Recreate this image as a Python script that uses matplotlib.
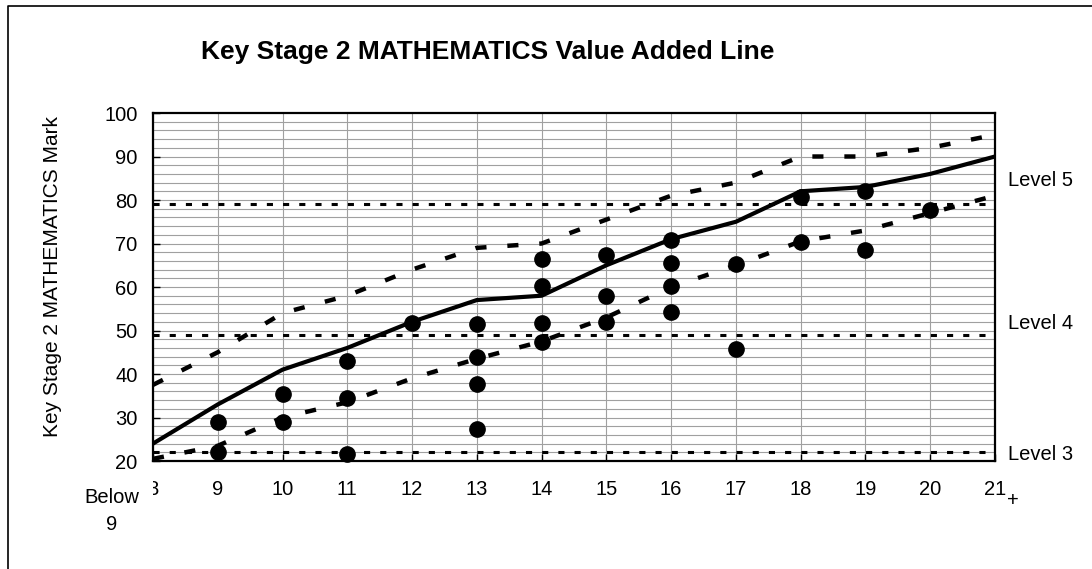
import matplotlib
matplotlib.use('Agg')
import matplotlib.pyplot as plt
from matplotlib.lines import Line2D

plt.rcParams['font.family'] = ['Liberation Sans', 'DejaVu Sans']

# KS1 point score categories (8 = "Below 9", 21 = "21+")
ks1 = [8, 9, 10, 11, 12, 13, 14, 15, 16, 17, 18, 19, 20, 21]
tick_labels = ['8', '9', '10', '11', '12', '13', '14', '15', '16', '17', '18', '19', '20', '21']

# value added lines
median_line = [24, 33, 41, 46, 52, 57, 58, 65, 71, 75, 82, 83, 86, 90]
upper_line = [37.5, 45, 54, 58, 64, 69, 70, 75.5, 81, 84, 90, 90, 92, 95]
lower_line = [20.5, 23.5, 30, 33.5, 39, 43.5, 47.5, 53, 60, 65, 70.5, 73, 77, 81]

# pupils
pupil_x = [9, 9, 10, 10, 11, 11, 11, 12, 13, 13, 13, 13, 14, 14, 14, 14,
           15, 15, 15, 16, 16, 16, 16, 17, 17, 18, 18, 19, 19, 20]
pupil_y = [29, 22, 35.5, 29, 43, 34.5, 21.5, 51.7, 51.4, 44, 37.8, 27.3,
           66.4, 60.3, 51.7, 47.4, 67.4, 58, 52, 70.7, 65.6, 60.3, 54.2,
           65.3, 45.7, 80.6, 70.4, 82, 68.5, 77.7]

# national curriculum level thresholds
level_names = ['Level 5', 'Level 4', 'Level 3']
level_marks = [79, 49, 22]
level_label_y = [84.5, 51.7, 21.6]

fig = plt.figure(figsize=(10.92, 5.69), dpi=100)
ax = fig.add_axes([0.1401, 0.1898, 0.9112 - 0.1401, 0.8014 - 0.1898])

ax.set_xlim(8, 21)
ax.set_ylim(20, 100)

# grid
for x in ks1:
    ax.axvline(x, color='#a0a0a0', lw=0.8, zorder=0)
for y in range(22, 100, 2):
    ax.axhline(y, color='#a0a0a0', lw=0.8, zorder=0)

# levels
for m in level_marks:
    ax.axhline(m, color='black', lw=2.2, linestyle=(0, (2, 3.3)), zorder=2)
for name, ly in zip(level_names, level_label_y):
    ax.text(21.2, ly, name, fontsize=14.5, va='center', ha='left', clip_on=False)

ax.plot(ks1, upper_line, color='black', lw=3.2, linestyle=(0, (2.5, 4.7)), zorder=3)
ax.plot(ks1, lower_line, color='black', lw=3.2, linestyle=(0, (2.5, 4.7)), zorder=3)
ax.plot(ks1, median_line, color='black', lw=3, solid_joinstyle='miter', zorder=3)
ax.plot(pupil_x, pupil_y, 'o', color='black', markersize=11, zorder=4, clip_on=False)

ax.set_xticks(ks1)
ax.set_xticklabels(tick_labels)
ax.set_yticks(range(20, 101, 10))
ax.tick_params(axis='both', direction='in', length=5, width=1, labelsize=14.5)
ax.tick_params(axis='x', pad=14)
ax.tick_params(axis='y', pad=11)
for s in ax.spines.values():
    s.set_linewidth(1.6)

fig.text(1013 / 1092, 1 - 501 / 569, '+', fontsize=14.5, ha='center', va='center')
fig.text(112 / 1092, 1 - 511 / 569, 'Below\n9', fontsize=14.5, ha='center', va='center',
         linespacing=1.5,
         bbox=dict(facecolor='white', edgecolor='none', pad=10))

fig.text(488 / 1092, 1 - 52 / 569, 'Key Stage 2 MATHEMATICS Value Added Line',
         fontsize=19, fontweight='bold', ha='center', va='center')
fig.text(53 / 1092, 1 - 277 / 569, 'Key Stage 2 MATHEMATICS Mark', fontsize=15,
         rotation=90, ha='center', va='center')

# outer frame
fx = [8 / 1092, 8 / 1092, 1.0]
fy = [0, 1 - 6 / 569, 1 - 6 / 569]
fig.add_artist(Line2D(fx, fy, color='black', lw=1.2, transform=fig.transFigure))

fig.savefig('out.png', dpi=100)
